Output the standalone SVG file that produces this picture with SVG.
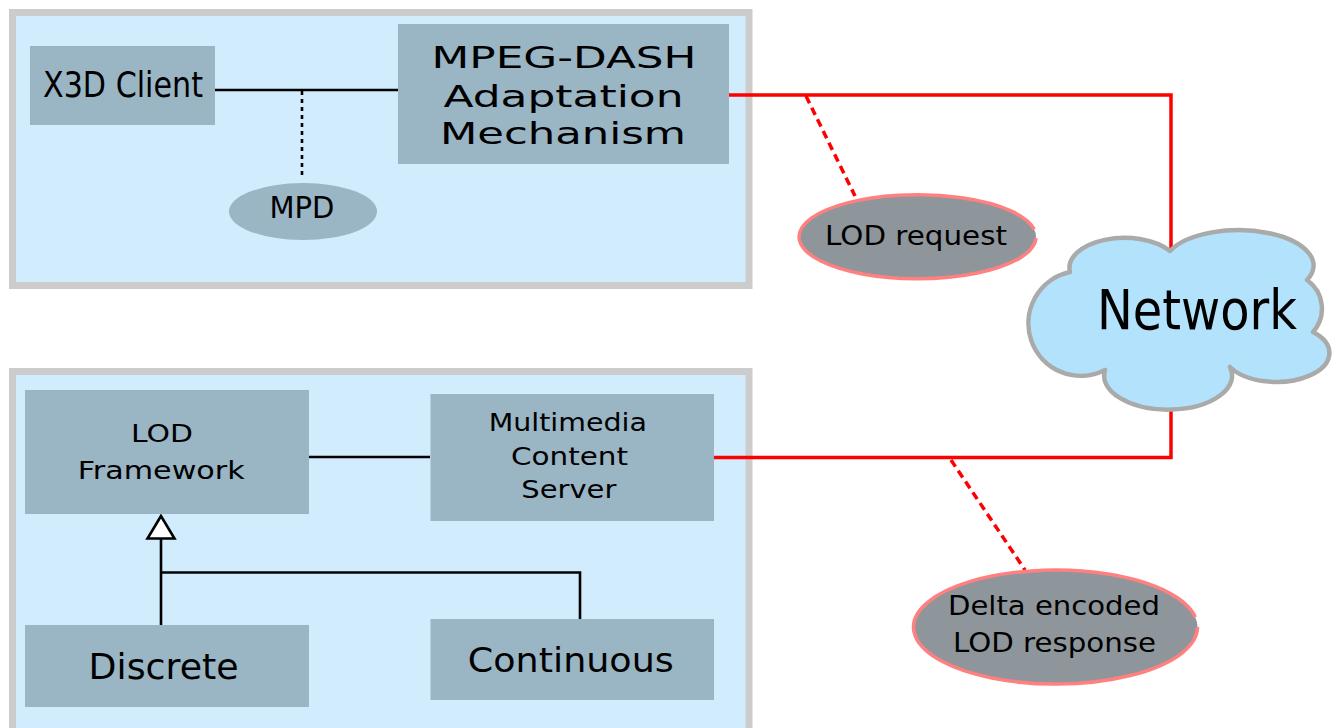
<svg xmlns="http://www.w3.org/2000/svg" width="1340" height="728" viewBox="0 0 1340 728">
<style>
.container{fill:#d1ecfd;stroke:#cccccc;stroke-width:7}
.box{fill:#9ab5c4}
.txt{font-family:"DejaVu Sans","Verdana",sans-serif;fill:#000;text-anchor:middle}
.blk{fill:none;stroke:#000;stroke-width:2.6}
.red{fill:none;stroke:#ff0000;stroke-width:3.5}
.reddash{fill:none;stroke:#ff0000;stroke-width:3.5;stroke-dasharray:8 5}
.msg{fill:#8e969b}
.msgline{fill:none;stroke:#ff8080;stroke-width:3.5}
</style>
<rect width="1340" height="728" fill="#ffffff"/>
<g id="client-container">
<rect class="container" x="12.5" y="12.5" width="736.5" height="273"/>
</g>
<g id="server-container">
<rect class="container" x="12.5" y="371.5" width="736.5" height="400"/>
</g>
<g id="connectors">
<path class="red" d="M727,95 H1171 V256"/>
<path class="red" d="M1171,400 V457.5 H714"/>
<path class="reddash" d="M806,96 L855,196"/>
<path class="reddash" d="M951,460 L1025,570"/>
<line class="blk" x1="215" y1="90" x2="400" y2="90"/>
<line class="blk" x1="302" y1="91" x2="302" y2="175" stroke-dasharray="4 4" stroke-width="2.2"/>
<line class="blk" x1="309" y1="457" x2="430" y2="457"/>
<path class="blk" d="M161,629 V538"/>
<path class="blk" d="M161,572.5 H580 V622"/>
<polygon points="161,516 147.5,538.5 174.5,538.5" fill="#ffffff" stroke="#000" stroke-width="2.6" stroke-linejoin="miter"/>
</g>
<g id="x3d-client">
<rect class="box" x="30" y="46" width="185" height="79"/>
<text class="txt" x="123" y="96.5" font-size="35" textLength="160" lengthAdjust="spacingAndGlyphs">X3D Client</text>
</g>
<g id="mpd">
<ellipse class="box" cx="303" cy="211.5" rx="74" ry="28.5"/>
<text class="txt" x="302" y="218.3" font-size="30" textLength="65" lengthAdjust="spacingAndGlyphs">MPD</text>
</g>
<g id="mpeg-dash">
<rect class="box" x="398" y="24" width="331" height="140"/>
<text class="txt" x="564" y="68.3" font-size="30" textLength="265" lengthAdjust="spacingAndGlyphs">MPEG-DASH</text>
<text class="txt" x="563.5" y="106.7" font-size="30" textLength="240" lengthAdjust="spacingAndGlyphs">Adaptation</text>
<text class="txt" x="563" y="144.3" font-size="30" textLength="246" lengthAdjust="spacingAndGlyphs">Mechanism</text>
</g>
<g id="network">
<path d="M1070,272 A55 30 0 0 1 1170,251 A72 34 0 0 1 1307,280 A35 35 0 0 1 1313,332 A53 29 0 1 1 1230,367 A64 34 0 1 1 1105,370 A52.5 52.5 0 1 1 1070,272 Z" fill="#b3e2fc" stroke="#aaaaaa" stroke-width="4.5" stroke-linejoin="round"/>
<text class="txt" x="1197" y="329" font-size="56" textLength="200" lengthAdjust="spacingAndGlyphs">Network</text>
</g>
<g id="lod-request">
<ellipse class="msg" cx="917.5" cy="236.7" rx="118.5" ry="42"/>
<path class="msgline" d="M1036,238 A118.5 42 0 1 1 1034.2 229.4"/>
<text class="txt" x="916" y="245" font-size="26" textLength="182" lengthAdjust="spacingAndGlyphs">LOD request</text>
</g>
<g id="lod-framework">
<rect class="box" x="25" y="390" width="284" height="124"/>
<text class="txt" x="162" y="441.7" font-size="25" textLength="62" lengthAdjust="spacingAndGlyphs">LOD</text>
<text class="txt" x="161.2" y="479" font-size="25" textLength="167" lengthAdjust="spacingAndGlyphs">Framework</text>
</g>
<g id="multimedia-server">
<rect class="box" x="430.5" y="394" width="283.5" height="127"/>
<text class="txt" x="567.8" y="431" font-size="24" textLength="158" lengthAdjust="spacingAndGlyphs">Multimedia</text>
<text class="txt" x="569.5" y="465" font-size="24" textLength="117" lengthAdjust="spacingAndGlyphs">Content</text>
<text class="txt" x="568.8" y="498.3" font-size="24" textLength="95" lengthAdjust="spacingAndGlyphs">Server</text>
</g>
<g id="discrete">
<rect class="box" x="25" y="625" width="284" height="82"/>
<text class="txt" x="163.6" y="679.3" font-size="36" textLength="150" lengthAdjust="spacingAndGlyphs">Discrete</text>
</g>
<g id="continuous">
<rect class="box" x="430.5" y="619" width="283.5" height="81"/>
<text class="txt" x="570.8" y="671.7" font-size="34" textLength="206" lengthAdjust="spacingAndGlyphs">Continuous</text>
</g>
<g id="delta-response">
<ellipse class="msg" cx="1055.5" cy="627" rx="142" ry="57"/>
<path class="msgline" d="M1197.5,627 A142 57 0 1 1 1195.3 617.1"/>
<text class="txt" x="1054" y="615" font-size="27" textLength="212" lengthAdjust="spacingAndGlyphs">Delta encoded</text>
<text class="txt" x="1054.5" y="651.7" font-size="27" textLength="203" lengthAdjust="spacingAndGlyphs">LOD response</text>
</g>
</svg>
